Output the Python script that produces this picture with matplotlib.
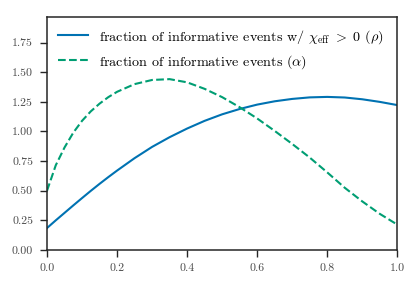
#
#   Fraction of informative events vs. mixing fraction
#

import matplotlib
matplotlib.use('Agg')
import matplotlib.pyplot as plt
import numpy as np

# values

x_grid = [0.0, 0.025, 0.05, 0.075, 0.1, 0.125, 0.15, 0.175, 0.2, 0.25,
          0.3, 0.35, 0.4, 0.45, 0.5, 0.55, 0.6, 0.65, 0.7, 0.75, 0.8,
          0.85, 0.9, 0.95, 1.0]

frac_rho = [0.185, 0.25, 0.313, 0.376, 0.438, 0.499, 0.558, 0.615, 0.67,
            0.775, 0.87, 0.952, 1.025, 1.09, 1.145, 1.19, 1.227, 1.255,
            1.275, 1.288, 1.292, 1.287, 1.272, 1.25, 1.223]

frac_alpha = [0.50, 0.715, 0.865, 0.99, 1.09, 1.17, 1.235, 1.29, 1.335,
              1.40, 1.435, 1.442, 1.415, 1.36, 1.29, 1.205, 1.11, 1.005,
              0.895, 0.78, 0.655, 0.525, 0.41, 0.305, 0.214]

label_rho = r'fraction of informative events w/ $\chi_{\rm eff}\ >\ 0$ $(\rho)$'
label_alpha = r'fraction of informative events $(\alpha)$'

xticks = [0.0, 0.2, 0.4, 0.6, 0.8, 1.0]
yticks = [0.0, 0.25, 0.5, 0.75, 1.0, 1.25, 1.5, 1.75]

plt.rcParams['font.family'] = 'serif'
plt.rcParams['font.serif'] = ['cmr10', 'DejaVu Serif']
plt.rcParams['mathtext.fontset'] = 'cm'
plt.rcParams['axes.formatter.use_mathtext'] = True

f = plt.figure(figsize=(4.16, 2.86), dpi=100)
ax = f.add_axes([0.113, 0.126, 0.842, 0.816])

ax.plot(x_grid, frac_rho, color='#0072B2', linewidth=1.5, label=label_rho)
ax.plot(x_grid, frac_alpha, color='#009E73', linewidth=1.5,
        linestyle='--', label=label_alpha)

ax.set_xlim(0, 1)
ax.set_ylim(0, 1.97)
ax.set_xticks(xticks)
ax.set_yticks(yticks)
ax.set_xticklabels(['%.1f' % v for v in xticks])
ax.set_yticklabels(['%.2f' % v for v in yticks])

for s in ax.spines.values():
    s.set_color('#262626')
    s.set_linewidth(1.1)

ax.tick_params(direction='out', length=5, width=1.0, color='#262626',
               labelsize=8.5, labelcolor='#4a4a4a', pad=5)

ax.legend(loc='upper left', frameon=False, fontsize=10.2,
          handlelength=2.1, borderaxespad=0.4, labelspacing=0.5)

f.savefig('out.png', dpi=100)
